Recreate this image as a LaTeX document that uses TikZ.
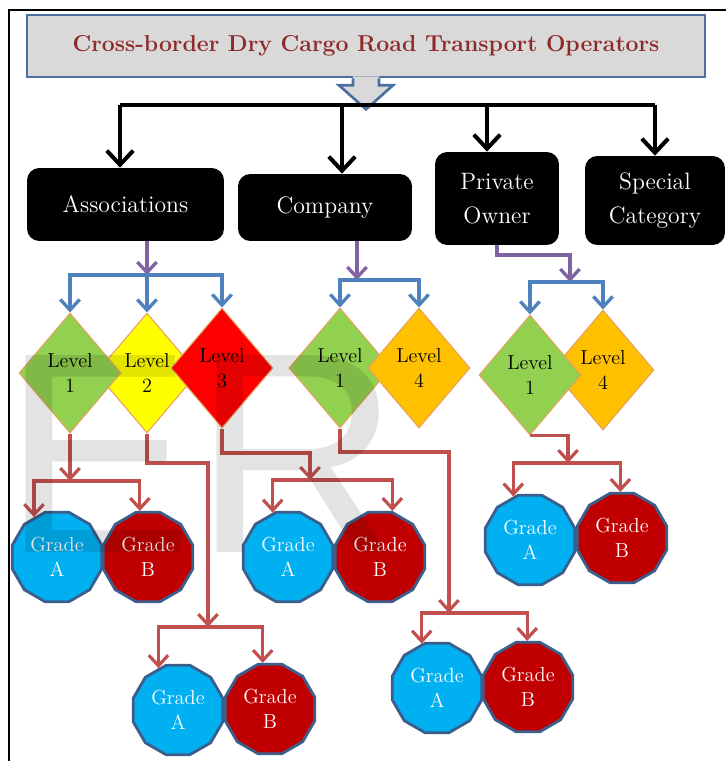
\documentclass[tikz,border=0pt]{standalone}
\usepackage{fontspec}
\usepackage{tikz}
\usetikzlibrary{positioning, arrows.meta, shapes.geometric, calc}
\newfontfamily\wmfont{Liberation Sans}

\definecolor{titlegray}{HTML}{D9D9D9}
\definecolor{titleblue}{HTML}{4A6FA0}
\definecolor{titlered}{HTML}{8E2A2A}
\definecolor{purpline}{HTML}{8064A2}
\definecolor{blueline}{HTML}{4F81BD}
\definecolor{redline}{HTML}{C0504D}
\definecolor{lvgreen}{HTML}{92D050}
\definecolor{lvyellow}{HTML}{FFFF00}
\definecolor{lvred}{HTML}{FF0000}
\definecolor{lvorange}{HTML}{FFC000}
\definecolor{lvedge}{HTML}{E8A060}
\definecolor{gradeblue}{HTML}{00B0F0}
\definecolor{gradered}{HTML}{C00000}
\definecolor{gradeedge}{HTML}{3B5F8C}

\tikzset{
  opbox/.style={fill=black, text=white, rounded corners=7pt, align=center,
                font=\fontsize{13.5}{19}\selectfont, inner sep=0pt},
  level/.style={diamond, draw=lvedge, line width=0.6pt, minimum width=2.04cm,
                minimum height=2.4cm, inner sep=0pt, aspect=0.85, align=center,
                font=\fontsize{11.5}{14}\selectfont},
  grade/.style={regular polygon, regular polygon sides=12, minimum size=1.85cm,
                draw=gradeedge, line width=1.6pt, text=white, align=center,
                inner sep=0pt, font=\fontsize{11.6}{14}\selectfont},
  blk/.style={line width=2.3pt, -{Straight Barb[length=8pt,width=15pt]}},
  purp/.style={draw=purpline, line width=1.9pt, -{Straight Barb[length=6pt,width=11pt]}},
  blu/.style={draw=blueline, line width=1.9pt, -{Straight Barb[length=6pt,width=11pt]}},
  redarr/.style={draw=redline, line width=1.8pt, -{Straight Barb[length=6pt,width=11pt]}},
}

\begin{document}
\begin{tikzpicture}[x=0.02cm, y=-0.02cm]
    \useasboundingbox (0,0) rectangle (726,761);
    \draw[line width=1.3pt] (9,761) -- (9,10) -- (726,10);

    % title and its block arrow
    \node[draw=titleblue, fill=titlegray, line width=1.5pt, minimum width=13.56cm,
          minimum height=1.24cm, text=titlered,
          font=\fontsize{13.1}{15}\bfseries\selectfont] (title) at (366,46)
          {Cross-border Dry Cargo Road Transport Operators};
    \fill[titlegray] ($(title.south)+(-13,-2)$) -- ($(title.south)+(-13,7)$)
        -- ($(title.south)+(-27,7)$) -- ($(title.south)+(0,31)$)
        -- ($(title.south)+(27,7)$) -- ($(title.south)+(13,7)$)
        -- ($(title.south)+(13,-2)$) -- cycle;
    \draw[titleblue, line width=1.5pt] ($(title.south)+(-13,0)$) -- ($(title.south)+(-13,7)$)
        -- ($(title.south)+(-27,7)$) -- ($(title.south)+(0,31)$)
        -- ($(title.south)+(27,7)$) -- ($(title.south)+(13,7)$)
        -- ($(title.south)+(13,0)$);

    % operator types
    \node[opbox, minimum width=3.94cm, minimum height=1.46cm] (assoc) at (125.5,204.5) {Associations};
    \node[opbox, minimum width=3.48cm, minimum height=1.34cm] (company) at (325,207.5) {Company};
    \node[opbox, minimum width=2.48cm, minimum height=1.86cm] (private) at (497,198.5) {Private\\Owner};
    \node[opbox, minimum width=2.8cm, minimum height=1.78cm] (special) at (655,200.5) {Special\\Category};

    \coordinate (hub) at ($(title.south)+(0,28)$);
    \coordinate (ta) at (120,105);
    \coordinate (tc) at (342,105);
    \coordinate (tp) at (487,105);
    \coordinate (ts) at (655,105);
    \draw[line width=2.3pt] (ta) -- (ts);
    \draw[blk] (ta) -- (ta |- assoc.north);
    \draw[blk] (tc) -- (tc |- company.north);
    \draw[blk] (tp) -- (tp |- private.north);
    \draw[blk] (ts) -- (ts |- special.north);

    % levels
    \node[level, fill=lvyellow] (al2) at (147,373) {Level\\2};
    \node[level, fill=lvgreen] (al1) at (70,373) {Level\\1};
    \node[level, fill=lvred] (al3) at (222,368) {Level\\3};
    \node[level, fill=lvgreen] (cl1) at (340,368) {Level\\1};
    \node[level, fill=lvorange] (cl4) at (419,368) {Level\\4};
    \node[level, fill=lvorange] (pl4) at (603,370) {Level\\4};
    \node[level, fill=lvgreen] (pl1) at (530,375) {Level\\1};

    % grades
    \node[grade, fill=gradeblue] (ga1) at (57,557) {Grade\\A};
    \node[grade, fill=gradered] (gb1) at (148,557) {Grade\\B};
    \node[grade, fill=gradeblue] (ga2) at (178,710) {Grade\\A};
    \node[grade, fill=gradered] (gb2) at (270,709) {Grade\\B};
    \node[grade, fill=gradeblue] (ga3) at (288,557) {Grade\\A};
    \node[grade, fill=gradered] (gb3) at (380,557) {Grade\\B};
    \node[grade, fill=gradeblue] (ga4) at (437,688) {Grade\\A};
    \node[grade, fill=gradered] (gb4) at (528,687) {Grade\\B};
    \node[grade, fill=gradeblue] (ga5) at (530,540) {Grade\\A};
    \node[grade, fill=gradered] (gb5) at (622,538) {Grade\\B};

    % operator -> levels
    \coordinate (aj) at (147,275);
    \draw[purp] (aj |- assoc.south) -- (aj);
    \draw[blu] (aj) -| (al1.north);
    \draw[blu] (aj) -- (al2.north);
    \draw[blu] (aj) -| (al3.north);

    \coordinate (cj) at (357,280);
    \draw[purp] (cj |- company.south) -- (cj);
    \draw[blu] (cj) -| (cl1.north);
    \draw[blu] (cj) -| (cl4.north);

    \coordinate (pk) at (570,255);
    \coordinate (pj) at (570,282);
    \draw[purp] (private.south) |- (pk) -- (pj);
    \draw[blu] (pj) -| (pl1.north);
    \draw[blu] (pj) -| (pl4.north);

    % levels -> grades
    \coordinate (r1) at (70,481);
    \draw[redarr] (al1.south) -- (r1);
    \draw[redarr] (r1) -| (ga1.120);
    \draw[redarr] (r1) -| (gb1.100);

    \coordinate (r2k) at (208,463);
    \coordinate (r2) at (208,627);
    \draw[redarr] (al2.south) |- (r2k) -- (r2);
    \draw[redarr] (r2) -| (ga2.115);
    \draw[redarr] (r2) -| (gb2.99);

    \coordinate (r3k) at (310,453);
    \coordinate (r3) at (310,480);
    \draw[redarr] (al3.south) |- (r3k) -- (r3);
    \draw[redarr] (r3) -| (ga3.109);
    \draw[redarr] (r3) -| (gb3.75);

    \coordinate (r4k) at (449,452);
    \coordinate (r4) at (449,613);
    \draw[redarr] (cl1.south) |- (r4k) -- (r4);
    \draw[redarr] (r4) -| (ga4.109);
    \draw[redarr] (r4) -| (gb4.91);

    \coordinate (r5) at (568,463);
    \draw[redarr] (pl1.south) -| (r5);
    \draw[redarr] (r5) -| (ga5.111);
    \draw[redarr] (r5) -| (gb5.92);

    % watermark
    \node[anchor=base west, inner sep=0pt, text=black, text opacity=0.11,
          font=\fontsize{163}{170}\wmfont] (mark) at (2,552) {ER};
\end{tikzpicture}
\end{document}
